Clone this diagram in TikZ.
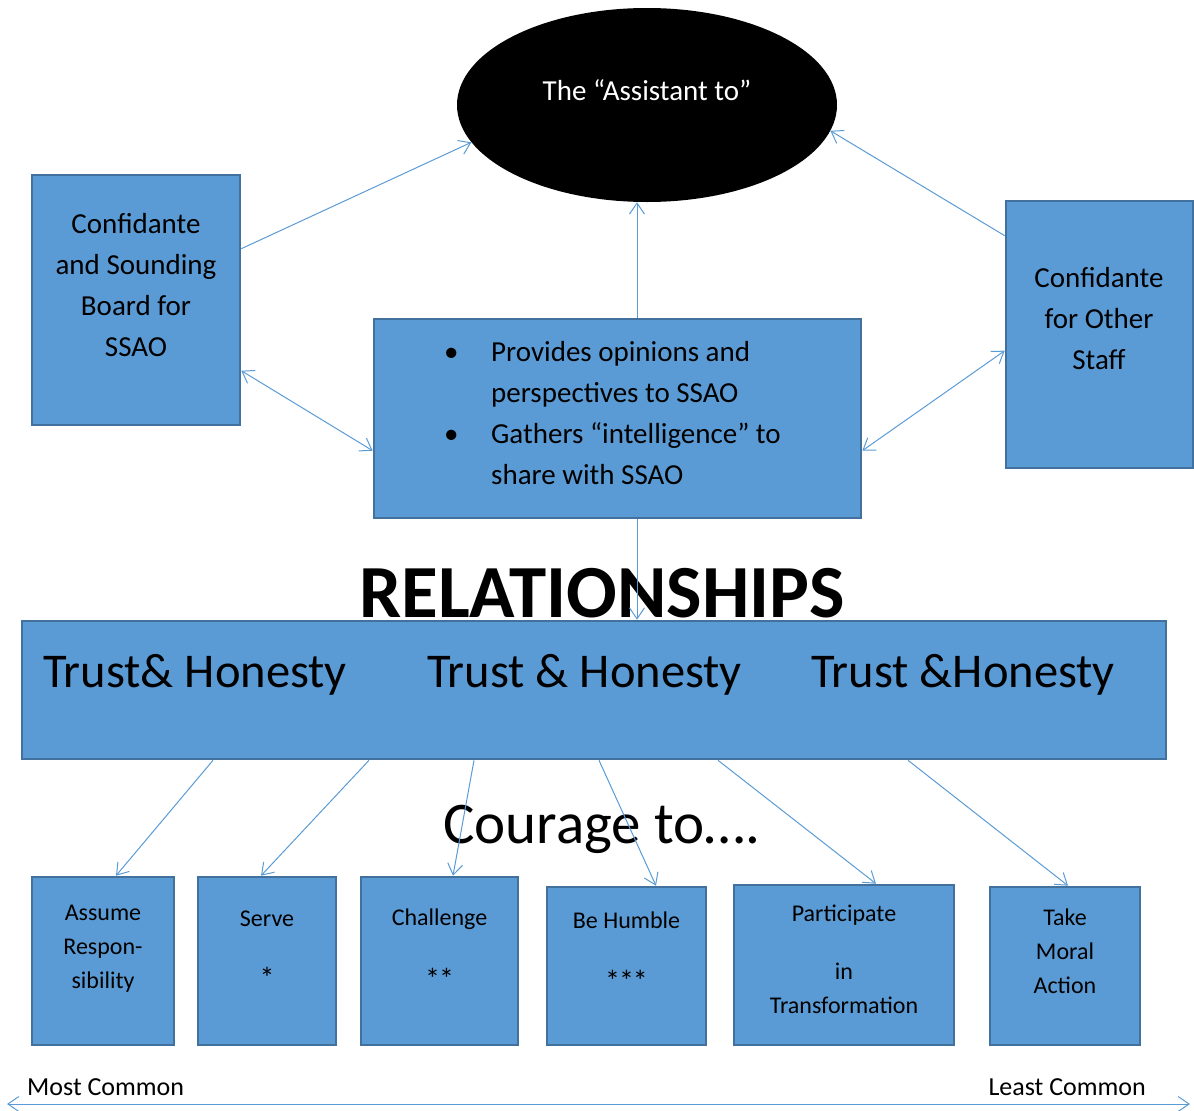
\documentclass[tikz,border=0pt]{standalone}
\usepackage{fontspec}
\setmainfont{Carlito}
\usetikzlibrary{arrows.meta,shapes.geometric}
\definecolor{boxfill}{HTML}{5B9BD5}
\definecolor{boxline}{HTML}{41719C}
\definecolor{arrowblue}{HTML}{5B9BD5}
\tikzset{
  card/.style={draw=boxline, fill=boxfill, line width=2.6pt, inner sep=0pt},
  barb/.tip={Straight Barb[length=11pt,width=15pt]},
  link/.style={draw=arrowblue, line width=1pt, -barb},
  twoway/.style={draw=arrowblue, line width=1pt, barb-barb},
  lbl/.style={inner sep=0pt, align=center, font=\fontsize{29}{41}\selectfont},
  small/.style={inner sep=0pt, align=center, font=\fontsize{24}{34}\selectfont},
  trust/.style={inner sep=0pt, anchor=base west, font=\fontsize{48.5}{52}\selectfont},
  edge label/.style={inner sep=0pt, font=\fontsize{26}{30}\selectfont},
}
\newcommand\stars[1]{{\fontsize{30}{34}\selectfont #1}}
\begin{document}
\begin{tikzpicture}[x=1pt,y=-1pt]
\useasboundingbox (0,0) rectangle (1194,1111);

% central figure
\node[ellipse, fill=black, minimum width=380pt, minimum height=194pt, inner sep=0pt] (ell) at (647,105) {};
\node[lbl, anchor=base, text=white] (elltext) at (647,100) {The “Assistant to”};

% upper boxes
\node[card, minimum width=208pt, minimum height=250pt] (lbox) at (136,300) {};
\node[lbl] (ltext) at (136,285) {Confidante\\and Sounding\\Board for\\SSAO};

\node[card, minimum width=187pt, minimum height=267pt] (rbox) at (1099.5,334.5) {};
\node[lbl] (rtext) at (1099,319) {Confidante\\for Other\\Staff};

\node[card, minimum width=487pt, minimum height=199pt] (mbox) at (617.5,418.5) {};
\node[lbl, align=left, anchor=west] (mtext) at (444,413)
  {\makebox[47pt][l]{\textbullet}Provides opinions and\\
   \hspace*{47pt}perspectives to SSAO\\
   \makebox[47pt][l]{\textbullet}Gathers “intelligence” to\\
   \hspace*{47pt}share with SSAO};

% relationships band
\node[card, minimum width=1144pt, minimum height=138pt] (big) at (594,690) {};
\node[inner sep=0pt, anchor=base, font=\fontsize{75}{80}\selectfont\bfseries] (rel) at (602,617) {RELATIONSHIPS};
\node[trust] (t1) at (43,687) {Trust\& Honesty};
\node[trust] (t2) at (427,687) {Trust \& Honesty};
\node[trust] (t3) at (811,687) {Trust \&Honesty};

\node[inner sep=0pt, anchor=base, font=\fontsize{59}{64}\selectfont] (courage) at (602,843) {Courage to….};

% courage boxes
\node[card, minimum width=142pt, minimum height=168pt] (b1) at (103,961) {};
\node[small] (b1t) at (103,949) {Assume\\Respon-\\sibility};
\node[card, minimum width=138pt, minimum height=168pt] (b2) at (267,961) {};
\node[small] (b2t) at (267,950) {Serve\\[28pt]\stars{*}};
\node[card, minimum width=157pt, minimum height=168pt] (b3) at (439.5,961) {};
\node[small] (b3t) at (439.5,949) {Challenge\\[30pt]\stars{*\kern-1pt*}};
\node[card, minimum width=159pt, minimum height=158pt] (b4) at (626.5,966) {};
\node[small] (b4t) at (626.5,952) {Be Humble\\[29pt]\stars{*\kern-1pt*\kern-1pt*}};
\node[card, minimum width=220pt, minimum height=160pt] (b5) at (844,965) {};
\node[small] (b5t) at (844,959) {Participate\\[24pt]in\\Transformation};
\node[card, minimum width=150pt, minimum height=158pt] (b6) at (1065,966) {};
\node[small] (b6t) at (1065,951) {Take\\Moral\\Action};

% scale along the bottom
\coordinate (most) at (7,1104);
\coordinate (least) at (1190,1104);
\node[edge label, anchor=base west] (mostl) at (27,1095) {Most Common};
\node[edge label, anchor=base east] (leastl) at (1146,1095) {Least Common};
\draw[twoway] (most) -- (least);

% connectors
\draw[link] ([yshift=-75pt]lbox.north east) -- (ell.192);
\draw[link] ([yshift=-36pt]rbox.north west) -- (ell.-8);
\draw[link] ([xshift=19.5pt]mbox.north) -- ([xshift=-10pt]ell.south);
\draw[twoway] ([yshift=-197pt]lbox.north east) -- ([yshift=-133pt]mbox.north west);
\draw[twoway] ([yshift=-151pt]rbox.north west) -- ([yshift=-133pt]mbox.north east);
\draw[link] ([xshift=19.5pt]mbox.south) -- ([xshift=43pt]big.north);

\draw[link] ([xshift=-381pt]big.south) -- ([xshift=13pt]b1.north);
\draw[link] ([xshift=-225pt]big.south) -- ([xshift=-6pt]b2.north);
\draw[link] ([xshift=-120pt]big.south) -- ([xshift=13.5pt]b3.north);
\draw[link] ([xshift=5pt]big.south) -- ([xshift=29.5pt]b4.north);
\draw[link] ([xshift=124pt]big.south) -- ([xshift=32pt]b5.north);
\draw[link] ([xshift=314pt]big.south) -- ([xshift=3pt]b6.north);
\end{tikzpicture}
\end{document}
